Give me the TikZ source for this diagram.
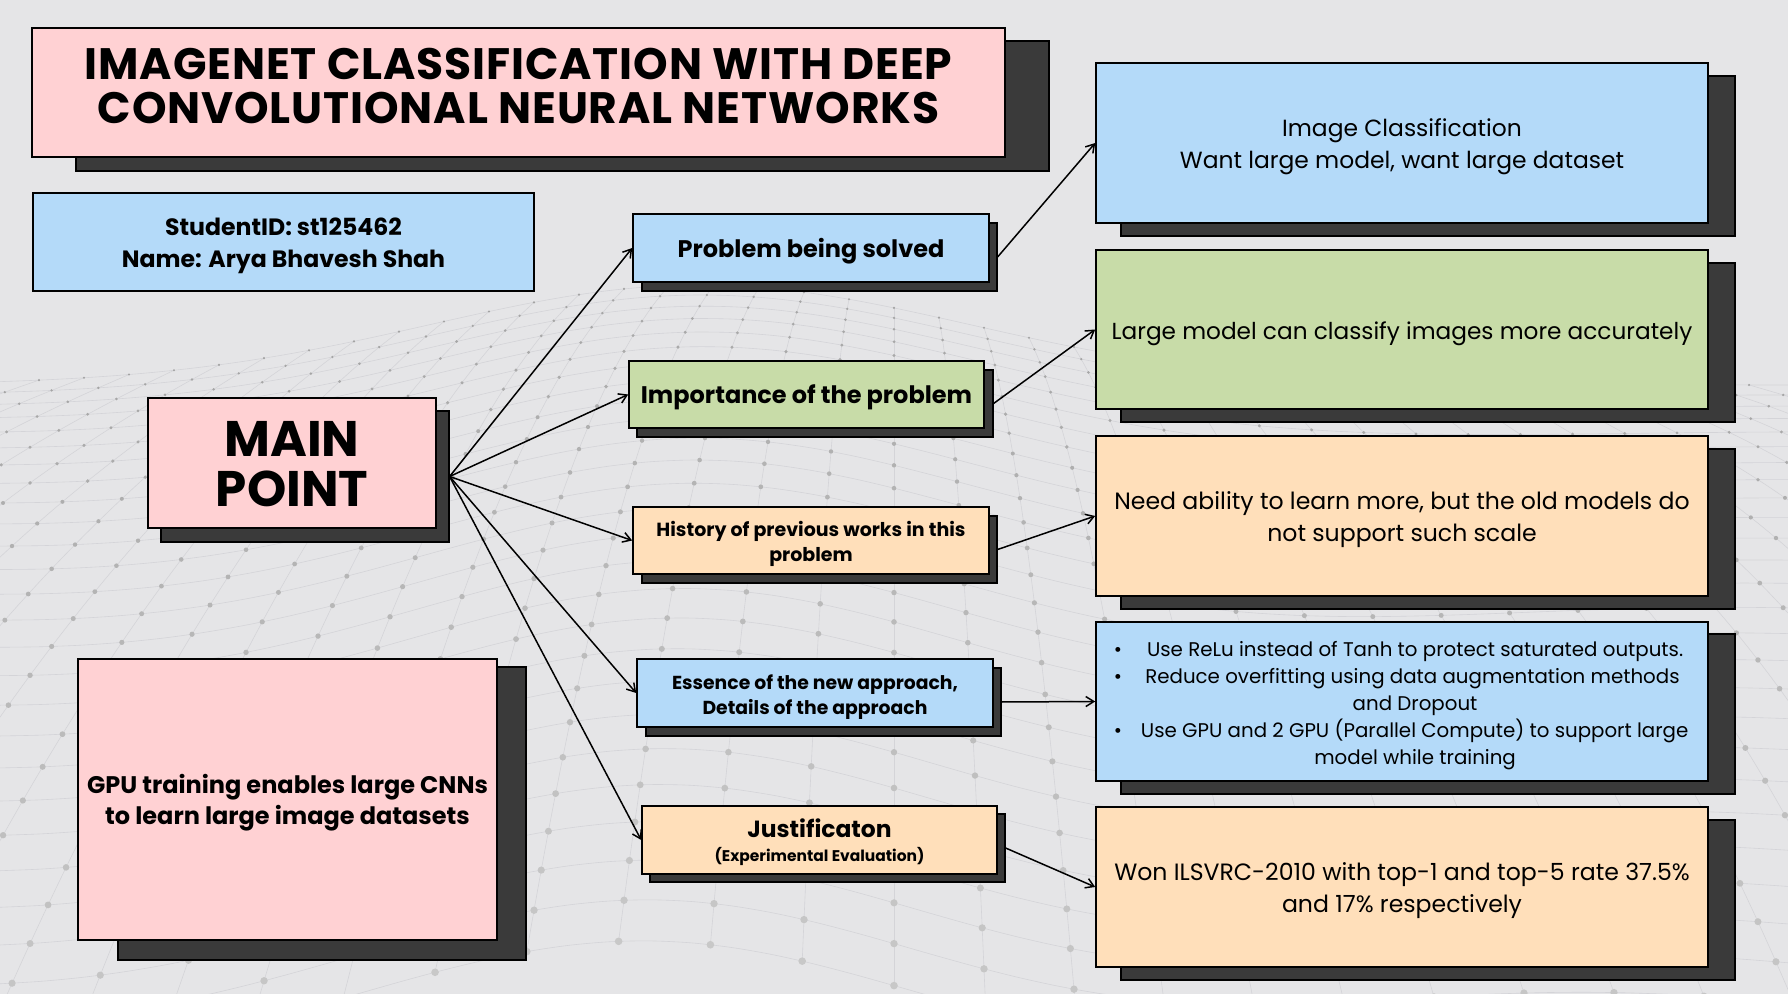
\documentclass[tikz,border=0pt]{standalone}
\usepackage{fontspec}
\setmainfont{Poppins}
\usepackage{array}
\usetikzlibrary{arrows.meta,fit}
\definecolor{bgC}{HTML}{E5E5E7}
\definecolor{pinkF}{HTML}{FFD1D3}
\definecolor{blueF}{HTML}{B4DAF9}
\definecolor{greenF}{HTML}{C8DCA8}
\definecolor{peachF}{HTML}{FFDFBA}
\definecolor{shadowC}{HTML}{3A3A3A}
\definecolor{meshLine}{HTML}{D4D4D8}
\newcommand\lns[2][3.5pt]{\raisebox{0pt}[\dimexpr\height+#1\relax]{\begin{tabular}{@{}c@{}}#2\end{tabular}}}
\begin{document}
\begin{tikzpicture}[x=0.5pt,y=-0.5pt,
  declare function={bx(\t)=385-100*exp(-((\t-700)/380)^2);
                    ry(\t,\k)=bx(\t)+10*\k+0.6*\k*\k+18*sin(\t/3+\k*4)*\k/26;
                    cx(\j,\k)=894+\j*45*(1+0.04*\k);},
  box/.style={draw=black,line width=0.8pt,inner sep=0pt,align=center,text=black,minimum width=306pt},
  shad/.style={fill=shadowC,draw=black,line width=0.6pt,inner sep=0pt},
  conn/.style={line width=0.75pt,-{Straight Barb[length=4pt,width=5pt]}},
  meshthin/.style={meshLine,line width=0.3pt}]
\fill[bgC] (0,0) rectangle (1788,994);
\useasboundingbox (0,0) rectangle (1788,994);
% background mesh
\begin{scope}
\clip (0,0) rectangle (1788,994);
\foreach \k in {0,...,26}{
  \draw[meshthin] plot[domain=0:1788,samples=45,smooth] (\x,{ry(\x,\k)});
}
\foreach \j in {-20,...,20}{
  \draw[meshthin] plot[domain=0:26,samples=27,smooth] ({cx(\j,\x)},{ry(cx(\j,\x),\x)});
}
\foreach \k in {0,...,26}{
  \pgfmathsetmacro\dc{36-0.55*\k}
  \foreach \j in {-20,...,20}{
    \fill[black!\dc] ({cx(\j,\k)},{ry(cx(\j,\k),\k)}) circle[radius={0.6pt+0.05pt*\k}];
  }
}
\end{scope}
% shadows
\node[shad,fit={(76,41) (1049,171)}] (titleS) {};
\node[shad,fit={(161,411) (449,542)}] (mainS) {};
\node[shad,fit={(118,667) (526,960)}] (gpuS) {};
\node[shad,fit={(642,223) (997,291)}] (probS) {};
\node[shad,fit={(637,370) (993,437)}] (impS) {};
\node[shad,fit={(642,516) (997,583)}] (histS) {};
\node[shad,fit={(646,668) (1001,736)}] (essS) {};
\node[shad,fit={(650,814) (1005,882)}] (justS) {};
\node[shad,fit={(1121,76) (1735,236)}] (r1S) {};
\node[shad,fit={(1121,263) (1735,422)}] (r2S) {};
\node[shad,fit={(1121,449) (1735,609)}] (r3S) {};
\node[shad,fit={(1121,634) (1735,794)}] (r4S) {};
\node[shad,fit={(1121,820) (1735,980)}] (r5S) {};
% boxes
\node[box,fill=pinkF,minimum width=486.5pt,minimum height=64.5pt,
  font=\fontsize{22}{21}\selectfont\bfseries\addfontfeatures{LetterSpace=2}] (title) at (518.5,92.5)
  {\lns[0pt]{IMAGENET CLASSIFICATION WITH DEEP\\CONVOLUTIONAL NEURAL NETWORKS}};
\node[box,fill=blueF,minimum width=250.5pt,minimum height=49pt,font=\fontsize{11.8}{16}\selectfont\bfseries] (student) at (283.5,242)
  {\lns{StudentID: st125462\\Name: Arya Bhavesh Shah}};
\node[box,fill=pinkF,minimum width=144pt,minimum height=65pt,font=\fontsize{25}{23}\selectfont\bfseries] (main) at (292,463)
  {\lns[8pt]{MAIN\\POINT}};
\node[box,fill=pinkF,minimum width=209.5pt,minimum height=140.5pt,font=\fontsize{12}{15.5}\selectfont\bfseries] (gpu) at (287.5,799.5)
  {\lns{GPU training enables large CNNs\\to learn large image datasets}};
\node[box,fill=blueF,minimum width=178pt,minimum height=34pt,font=\fontsize{12}{14}\selectfont\bfseries] (prob) at (811,248)
  {\lns{Problem being solved}};
\node[box,fill=greenF,minimum width=177.5pt,minimum height=33.5pt,font=\fontsize{12}{14}\selectfont\bfseries] (imp) at (806.5,394.5)
  {\lns{Importance of the problem}};
\node[box,fill=peachF,minimum width=178pt,minimum height=33.5pt,font=\fontsize{9.5}{12.5}\selectfont\bfseries] (hist) at (811,540.5)
  {\lns{History of previous works in this\\problem}};
\node[box,fill=blueF,minimum width=178pt,minimum height=34pt,font=\fontsize{9.4}{12.5}\selectfont\bfseries] (ess) at (815,693)
  {\lns{Essence of the new approach,\\Details of the approach}};
\node[box,fill=peachF,minimum width=177.5pt,minimum height=34pt,font=\fontsize{9}{12}\selectfont\bfseries] (just) at (819.5,840)
  {\lns{{\fontsize{11.7}{14}\selectfont Justificaton}\\{\fontsize{7.75}{10}\selectfont (Experimental Evaluation)}}};
\node[box,fill=blueF,minimum height=80pt,font=\fontsize{11.7}{16}\selectfont] (r1) at (1402,143)
  {\lns{Image Classification\\Want large model, want large dataset}};
\node[box,fill=greenF,minimum height=79.5pt,font=\fontsize{11.6}{16}\selectfont] (r2) at (1402,329.5)
  {\lns{Large model can classify images more accurately}};
\node[box,fill=peachF,minimum height=80pt,font=\fontsize{11.8}{16}\selectfont] (r3) at (1402,516)
  {\lns{Need ability to learn more, but the old models do\\not support such scale}};
\node[box,fill=blueF,minimum height=79.5pt,font=\fontsize{9.9}{13.5}\selectfont] (r4) at (1402,701.5)
  {\raisebox{0pt}[\dimexpr\height+3.5pt\relax]{\begin{tabular}{@{}c@{\hskip 9pt}>{\centering\arraybackslash}p{275pt}@{}}
   \textbullet & Use ReLu instead of Tanh to protect saturated outputs.\\
   \textbullet & Reduce overfitting using data augmentation methods\newline and Dropout\\
   \textbullet & Use GPU and 2 GPU (Parallel Compute) to support large\newline model while training
   \end{tabular}}};
\node[box,fill=peachF,minimum height=80pt,font=\fontsize{11.8}{16}\selectfont] (r5) at (1402,887)
  {\lns{Won ILSVRC-2010 with top-1 and top-5 rate 37.5\%\\and 17\% respectively}};
% connectors
\draw[conn] (mainS.east) -- (prob.west);
\draw[conn] (mainS.east) -- (imp.west);
\draw[conn] (mainS.east) -- (hist.west);
\draw[conn] (mainS.east) -- (ess.west);
\draw[conn] (mainS.east) -- (just.west);
\draw[conn] (probS.east) -- (r1.west);
\draw[conn] (impS.east) -- (r2.west);
\draw[conn] (histS.east) -- (r3.west);
\draw[conn] (essS.east) -- (r4.west);
\draw[conn] (justS.east) -- (r5.west);
\end{tikzpicture}
\end{document}
